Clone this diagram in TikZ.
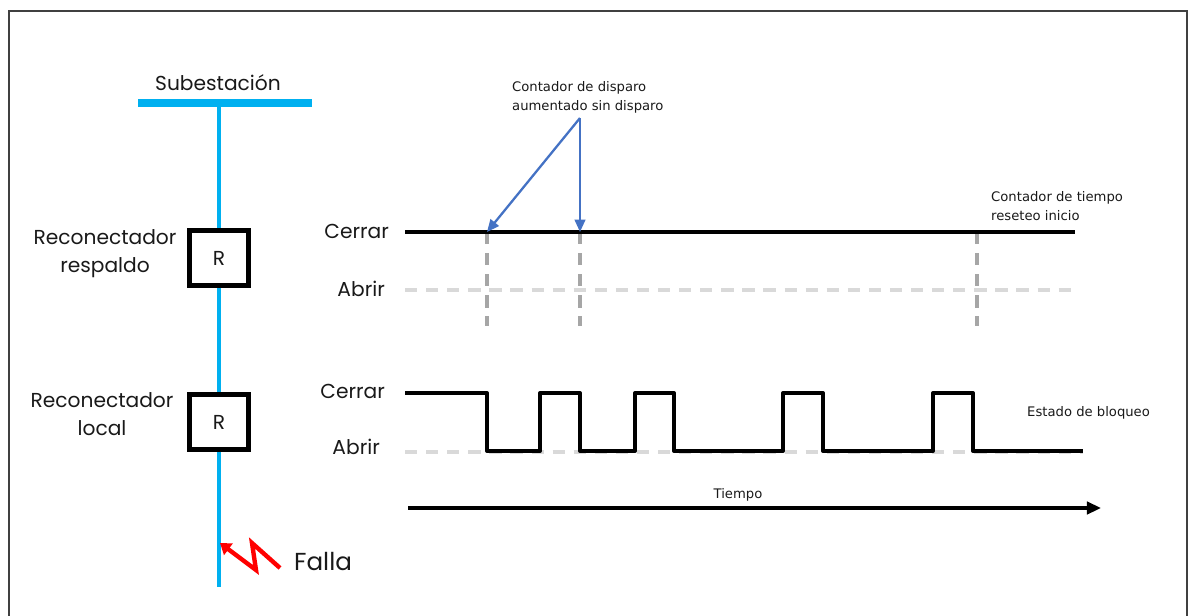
\documentclass[tikz,border=0pt]{standalone}
\usepackage{fontspec}
\usepackage{xcolor}
\usetikzlibrary{positioning, arrows.meta}
\newfontfamily\labelfont{Poppins}
\newfontfamily\notefont{DejaVu Sans}
\definecolor{feedblue}{RGB}{0,176,240}
\definecolor{noteblue}{RGB}{68,114,196}
\definecolor{faultred}{RGB}{255,0,0}
\definecolor{markgray}{RGB}{166,166,166}
\definecolor{opengray}{RGB}{217,217,217}
\tikzset{
    biglabel/.style={font=\labelfont\fontsize{11.5}{16}\selectfont, text=black!90},
    smallnote/.style={font=\notefont\fontsize{7.5}{10.8}\selectfont, text=black!90, align=left},
    feeder/.style={draw=feedblue, line width=2.2pt},
    rbox/.style={draw, line width=2.8pt, minimum width=1.18cm, minimum height=1.1cm, fill=white},
    signal/.style={line width=2.3pt, line join=round},
    openline/.style={draw=opengray, line width=1.8pt, dash pattern=on 7pt off 5pt},
    marker/.style={draw=markgray, line width=1.8pt, dash pattern=on 7pt off 5pt}
}

\begin{document}
\begin{tikzpicture}[x=0.02cm, y=-0.02cm]
        \useasboundingbox (0,0) rectangle (1189,615);
        % frame
        \draw[black!75, line width=1.3pt] (9,620) -- (9,11) -- (1187,11) -- (1187,620);

        % substation and feeder
        \node[biglabel] at (218,83) (sub) {Subestación};
        \coordinate (busl) at (138,103);
        \coordinate (busr) at (312,103);
        \coordinate (bustap) at (219,103);
        \draw[feedblue, line width=4.8pt] (busl) -- (busr);
        \node[rbox, biglabel] at (219,258) (r1) {R};
        \node[rbox, biglabel] at (219,422) (r2) {R};
        \coordinate (feedend) at (219,587);
        \draw[feeder] (bustap) -- (r1);
        \draw[feeder] (r1) -- (r2);
        \draw[feeder] (r2) -- (feedend);
        \node[biglabel, align=center] at (105,254) (r1lbl) {Reconectador\\respaldo};
        \node[biglabel, align=center] at (102,414) (r2lbl) {Reconectador\\local};

        % fault
        \coordinate (f0) at (280,568);
        \coordinate (f1) at (252,543);
        \coordinate (f2) at (256,570);
        \coordinate (f3) at (220,543);
        \draw[faultred, line width=2.5pt, -{Triangle[length=6pt, width=8pt]}] (f0) -- (f1) -- (f2) -- (f3);
        \node[biglabel, font=\labelfont\fontsize{14}{16}\selectfont, anchor=west] at (288,562) (falla) {Falla};

        % backup recloser states
        \node[biglabel, anchor=east] at (395,231) (cerrar1) {Cerrar};
        \node[biglabel, anchor=east] at (391,289) (abrir1) {Abrir};
        \draw[openline] (405,290) -- (1075,290);
        \foreach \x/\n in {487/m1, 580/m2, 977/m3} {
            \coordinate (\n) at (\x,232);
            \draw[marker] (\n) -- (\x,326);
        }
        \draw[signal] (405,232) -- (1075,232);

        % local recloser states
        \node[biglabel, anchor=east] at (391,391) (cerrar2) {Cerrar};
        \node[biglabel, anchor=east] at (386,447) (abrir2) {Abrir};
        \draw[openline] (405,452) -- (1083,452);
        \draw[signal] (405,393) -| (487,451) -| (540,393) -| (580,451) -| (635,393)
            -| (674,451) -| (783,393) -| (823,451) -| (933,393) -| (973,451) -- (1083,451);

        % notes
        \node[smallnote, anchor=west] at (506,97) (trip) {Contador de disparo\\aumentado sin disparo};
        \coordinate (tripsrc) at (580,118);
        \draw[noteblue, line width=1.3pt, -{Triangle[length=7pt, width=6pt]}] (tripsrc) -- (m1);
        \draw[noteblue, line width=1.3pt, -{Triangle[length=7pt, width=6pt]}] (tripsrc) -- (m2);
        \node[smallnote, anchor=west] at (985,206) (reset) {Contador de tiempo\\reseteo inicio};
        \node[smallnote, anchor=west] at (1021,413) (lock) {Estado de bloqueo};

        % time axis
        \coordinate (t0) at (408,508);
        \coordinate (t1) at (1101,508);
        \draw[line width=2pt, -{Triangle[length=8pt, width=7pt]}] (t0) -- (t1);
        \node[smallnote] at (738,495) (tiempo) {Tiempo};
    \end{tikzpicture}
\end{document}
